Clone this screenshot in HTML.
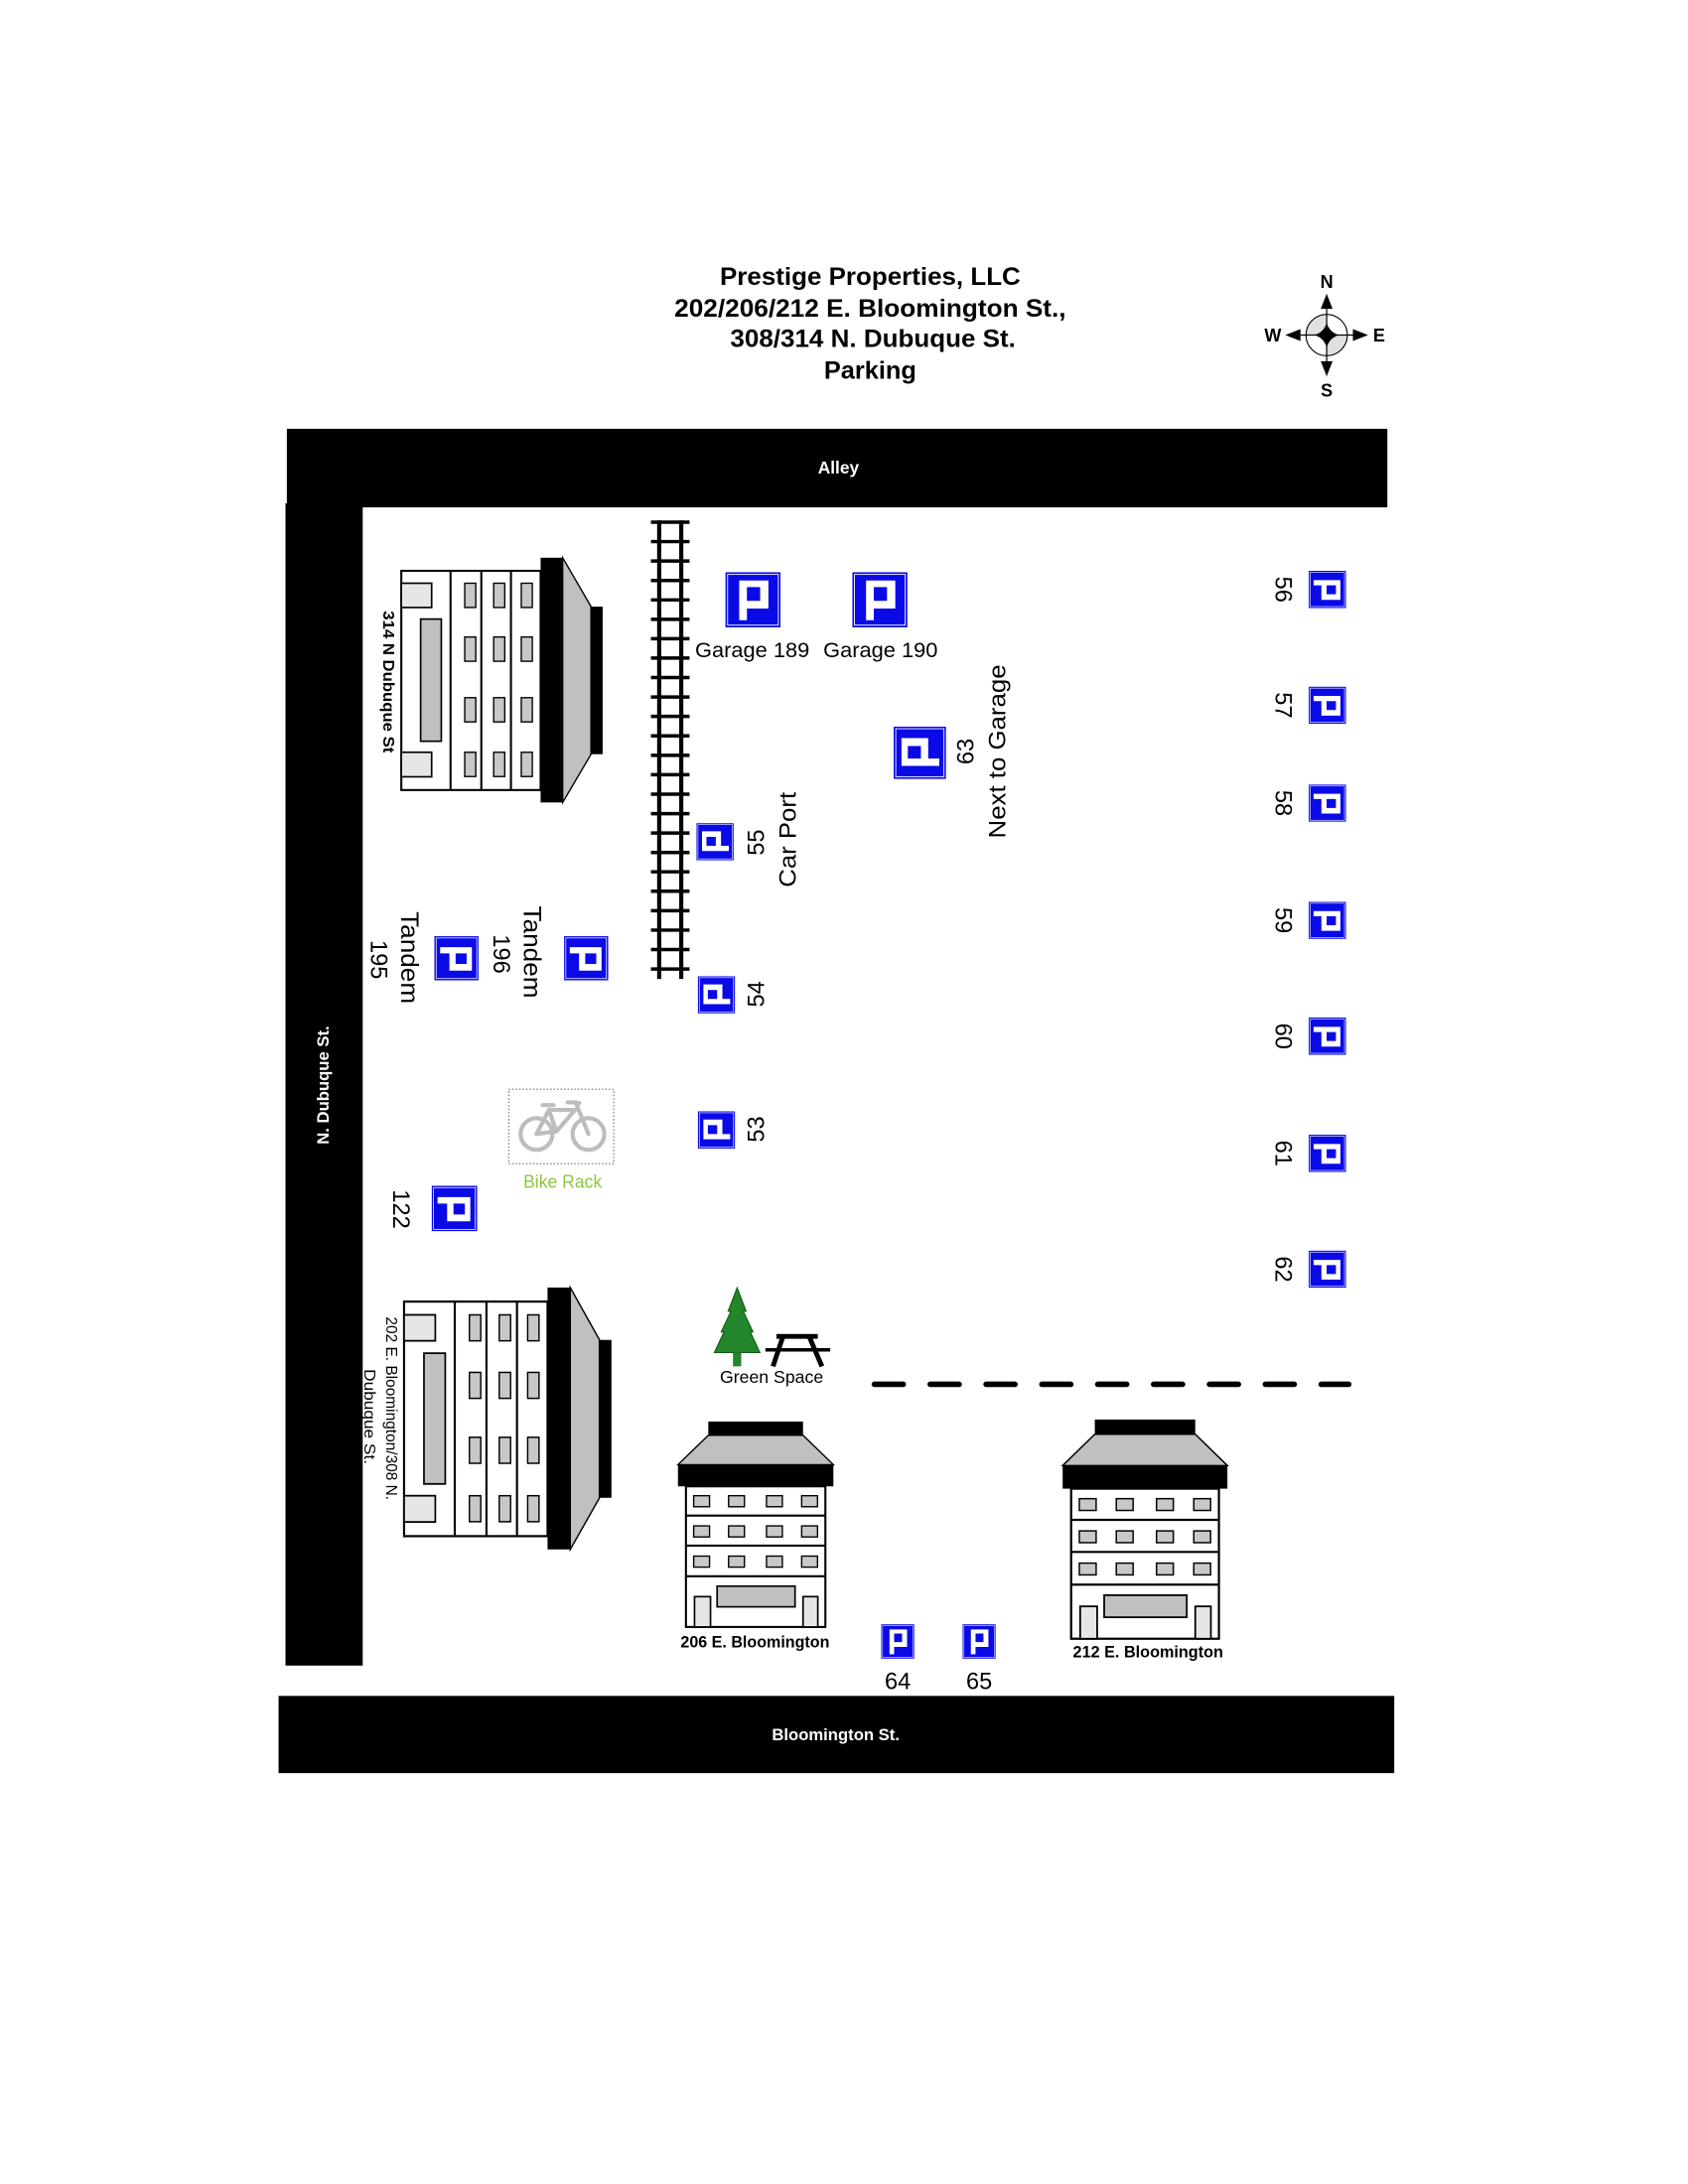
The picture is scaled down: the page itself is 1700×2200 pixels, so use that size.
<!DOCTYPE html>
<html><head><meta charset="utf-8"><style>
html,body{margin:0;padding:0;background:#fff;}
svg{display:block;}
text{font-family:"Liberation Sans",Arial,sans-serif;}
</style></head><body>
<svg width="1700" height="2200" viewBox="0 0 1224 1584" xmlns="http://www.w3.org/2000/svg">
<defs>
<symbol id="p" viewBox="0 0 100 100" preserveAspectRatio="none">
<rect x="0" y="0" width="100" height="100" fill="#0a0ae6"/>
<rect x="4" y="4" width="92" height="92" fill="none" stroke="#fff" stroke-width="1.6"/>
<path d="M25,15 H78 V66 H39 V87 H25 Z M39,27 V52 H63 V27 Z" fill="#fff" fill-rule="evenodd"/>
</symbol>
</defs>
<rect width="1224" height="1584" fill="#fff"/>

<!-- Title -->
<g font-weight="bold" font-size="18" text-anchor="middle" fill="#000">
<text x="631" y="206.5" textLength="218" lengthAdjust="spacingAndGlyphs">Prestige Properties, LLC</text>
<text x="631" y="229.5" textLength="284" lengthAdjust="spacingAndGlyphs">202/206/212 E. Bloomington St.,</text>
<text x="633" y="251.5" textLength="207" lengthAdjust="spacingAndGlyphs">308/314 N. Dubuque St.</text>
<text x="631" y="274.5" textLength="67" lengthAdjust="spacingAndGlyphs">Parking</text>
</g>

<!-- Compass -->
<g>
<circle cx="962" cy="243" r="15" fill="#fff"/>
<path d="M962,243 L947,243 A15,15 0 0 1 962,228 Z" fill="#e0e0e0"/>
<path d="M962,243 L977,243 A15,15 0 0 1 962,258 Z" fill="#e0e0e0"/>
<circle cx="962" cy="243" r="15" fill="none" stroke="#000" stroke-width="0.8"/>
<line x1="943" y1="243" x2="981" y2="243" stroke="#000" stroke-width="0.9"/>
<line x1="962" y1="224" x2="962" y2="262" stroke="#000" stroke-width="0.9"/>
<path d="M962,213 L966.3,224 L957.7,224 Z" fill="#000"/>
<path d="M962,273 L966.3,262 L957.7,262 Z" fill="#000"/>
<path d="M932,243 L943,238.7 L943,247.3 Z" fill="#000"/>
<path d="M992,243 L981,238.7 L981,247.3 Z" fill="#000"/>
<path d="M962,234 Q964,241 971,243 Q964,245 962,252 Q960,245 953,243 Q960,241 962,234 Z" fill="#000"/>
<g font-weight="bold" font-size="13" text-anchor="middle">
<text x="962" y="208.7">N</text>
<text x="962" y="287.7">S</text>
<text x="923" y="247.7">W</text>
<text x="1000" y="247.7">E</text>
</g>
</g>

<!-- Streets -->
<rect x="208" y="311" width="798" height="57" fill="#000"/>
<text x="608" y="343.5" font-size="12.5" font-weight="bold" fill="#fff" text-anchor="middle">Alley</text>
<rect x="207" y="365" width="56" height="843" fill="#000"/>
<text transform="translate(234,787) rotate(-90)" y="4.2" font-size="12" font-weight="bold" fill="#fff" text-anchor="middle">N. Dubuque St.</text>
<rect x="202" y="1230" width="809" height="56" fill="#000"/>
<text x="606" y="1262" font-size="12" font-weight="bold" fill="#fff" text-anchor="middle">Bloomington St.</text>

<!-- Railroad track -->
<g stroke="#000">
<line x1="478" y1="377.5" x2="478" y2="710" stroke-width="3"/>
<line x1="494" y1="377.5" x2="494" y2="710" stroke-width="3"/>
<g stroke-width="2.5">
<line x1="472" x2="500" y1="378.7" y2="378.7"/>
<line x1="472" x2="500" y1="392.8" y2="392.8"/>
<line x1="472" x2="500" y1="406.9" y2="406.9"/>
<line x1="472" x2="500" y1="421.0" y2="421.0"/>
<line x1="472" x2="500" y1="435.1" y2="435.1"/>
<line x1="472" x2="500" y1="449.2" y2="449.2"/>
<line x1="472" x2="500" y1="463.2" y2="463.2"/>
<line x1="472" x2="500" y1="477.3" y2="477.3"/>
<line x1="472" x2="500" y1="491.4" y2="491.4"/>
<line x1="472" x2="500" y1="505.5" y2="505.5"/>
<line x1="472" x2="500" y1="519.6" y2="519.6"/>
<line x1="472" x2="500" y1="533.7" y2="533.7"/>
<line x1="472" x2="500" y1="547.8" y2="547.8"/>
<line x1="472" x2="500" y1="561.9" y2="561.9"/>
<line x1="472" x2="500" y1="576.0" y2="576.0"/>
<line x1="472" x2="500" y1="590.1" y2="590.1"/>
<line x1="472" x2="500" y1="604.2" y2="604.2"/>
<line x1="472" x2="500" y1="618.3" y2="618.3"/>
<line x1="472" x2="500" y1="632.3" y2="632.3"/>
<line x1="472" x2="500" y1="646.4" y2="646.4"/>
<line x1="472" x2="500" y1="660.5" y2="660.5"/>
<line x1="472" x2="500" y1="674.6" y2="674.6"/>
<line x1="472" x2="500" y1="688.7" y2="688.7"/>
<line x1="472" x2="500" y1="702.8" y2="702.8"/>
</g>
</g>

<!-- Left building 1: 314 N Dubuque -->
<g transform="translate(291,414)">
<rect x="0" y="0" width="101" height="159" fill="#fff" stroke="#000" stroke-width="1.5"/>
<g stroke="#000" stroke-width="1.5">
<line x1="35.7" y1="0" x2="35.7" y2="159"/>
<line x1="58" y1="0" x2="58" y2="159"/>
<line x1="79.5" y1="0" x2="79.5" y2="159"/>
</g>
<g fill="#c8c8c8" stroke="#000" stroke-width="1">
<rect x="46" y="9" width="8" height="17.6"/><rect x="67" y="9" width="8" height="17.6"/><rect x="87" y="9" width="8" height="17.6"/>
<rect x="46" y="48" width="8" height="17.6"/><rect x="67" y="48" width="8" height="17.6"/><rect x="87" y="48" width="8" height="17.6"/>
<rect x="46" y="92" width="8" height="17.6"/><rect x="67" y="92" width="8" height="17.6"/><rect x="87" y="92" width="8" height="17.6"/>
<rect x="46" y="131.6" width="8" height="17.6"/><rect x="67" y="131.6" width="8" height="17.6"/><rect x="87" y="131.6" width="8" height="17.6"/>
</g>
<rect x="0" y="9" width="22" height="17.6" fill="#e6e6e6" stroke="#000" stroke-width="1.2"/>
<rect x="0" y="131.6" width="22" height="17.8" fill="#e6e6e6" stroke="#000" stroke-width="1.2"/>
<rect x="14" y="35" width="15" height="88.6" fill="#c0c0c0" stroke="#000" stroke-width="1.2"/>
<polygon points="117,-9.5 137.6,26 137.6,133 117,168" fill="#c0c0c0" stroke="#000" stroke-width="1"/>
<rect x="101" y="-9.5" width="16" height="177.5" fill="#000"/>
<rect x="137" y="26" width="9" height="107" fill="#000"/>
</g>
<text transform="translate(282,494.5) rotate(90)" y="3.9" font-size="11" font-weight="bold" text-anchor="middle" textLength="103" lengthAdjust="spacingAndGlyphs">314 N Dubuque St</text>

<!-- Left building 2: 202 E. Bloomington / 308 N. Dubuque -->
<g transform="translate(293,944) scale(1.03,1.07)">
<rect x="0" y="0" width="101" height="159" fill="#fff" stroke="#000" stroke-width="1.5"/>
<g stroke="#000" stroke-width="1.5">
<line x1="35.7" y1="0" x2="35.7" y2="159"/>
<line x1="58" y1="0" x2="58" y2="159"/>
<line x1="79.5" y1="0" x2="79.5" y2="159"/>
</g>
<g fill="#c8c8c8" stroke="#000" stroke-width="1">
<rect x="46" y="9" width="8" height="17.6"/><rect x="67" y="9" width="8" height="17.6"/><rect x="87" y="9" width="8" height="17.6"/>
<rect x="46" y="48" width="8" height="17.6"/><rect x="67" y="48" width="8" height="17.6"/><rect x="87" y="48" width="8" height="17.6"/>
<rect x="46" y="92" width="8" height="17.6"/><rect x="67" y="92" width="8" height="17.6"/><rect x="87" y="92" width="8" height="17.6"/>
<rect x="46" y="131.6" width="8" height="17.6"/><rect x="67" y="131.6" width="8" height="17.6"/><rect x="87" y="131.6" width="8" height="17.6"/>
</g>
<rect x="0" y="9" width="22" height="17.6" fill="#e6e6e6" stroke="#000" stroke-width="1.2"/>
<rect x="0" y="131.6" width="22" height="17.8" fill="#e6e6e6" stroke="#000" stroke-width="1.2"/>
<rect x="14" y="35" width="15" height="88.6" fill="#c0c0c0" stroke="#000" stroke-width="1.2"/>
<polygon points="117,-9.5 137.6,26 137.6,133 117,168" fill="#c0c0c0" stroke="#000" stroke-width="1"/>
<rect x="101" y="-9.5" width="16" height="177.5" fill="#000"/>
<rect x="137" y="26" width="9" height="107" fill="#000"/>
</g>
<text transform="translate(284,1021.5) rotate(90)" y="3.9" font-size="11" text-anchor="middle" textLength="133" lengthAdjust="spacingAndGlyphs">202 E. Bloomington/308 N.</text>
<text transform="translate(268,1027.5) rotate(90)" y="3.9" font-size="11" text-anchor="middle" textLength="69" lengthAdjust="spacingAndGlyphs">Dubuque St.</text>

<!-- Bottom building 206 -->
<g>
<rect x="513.6" y="1031" width="68.7" height="10" fill="#000"/>
<polygon points="513.6,1041 582.3,1041 604.3,1062.3 491.6,1062.3" fill="#c0c0c0" stroke="#000" stroke-width="1"/>
<rect x="491.6" y="1062.3" width="112.7" height="15.7" fill="#000"/>
<rect x="497.4" y="1078" width="101.1" height="102" fill="#fff" stroke="#000" stroke-width="1.5"/>
<g stroke="#000" stroke-width="1.5">
<line x1="497.4" x2="598.5" y1="1099.2" y2="1099.2"/>
<line x1="497.4" x2="598.5" y1="1121" y2="1121"/>
<line x1="497.4" x2="598.5" y1="1143.2" y2="1143.2"/>
</g>
<g fill="#c8c8c8" stroke="#000" stroke-width="1">
<rect x="503" y="1084.8" width="11.5" height="8"/><rect x="528.3" y="1084.8" width="11.5" height="8"/><rect x="555.8" y="1084.8" width="11.5" height="8"/><rect x="581.3" y="1084.8" width="11.5" height="8"/>
<rect x="503" y="1106.7" width="11.5" height="8"/><rect x="528.3" y="1106.7" width="11.5" height="8"/><rect x="555.8" y="1106.7" width="11.5" height="8"/><rect x="581.3" y="1106.7" width="11.5" height="8"/>
<rect x="503" y="1128.6" width="11.5" height="8"/><rect x="528.3" y="1128.6" width="11.5" height="8"/><rect x="555.8" y="1128.6" width="11.5" height="8"/><rect x="581.3" y="1128.6" width="11.5" height="8"/>
</g>
<rect x="520" y="1150.4" width="56.5" height="15" fill="#c0c0c0" stroke="#000" stroke-width="1.2"/>
<rect x="503.6" y="1158" width="11.6" height="22" fill="#e6e6e6" stroke="#000" stroke-width="1.2"/>
<rect x="582.3" y="1158" width="10.7" height="22" fill="#e6e6e6" stroke="#000" stroke-width="1.2"/>
</g>
<text x="547.5" y="1195" font-size="12" font-weight="bold" text-anchor="middle" textLength="108" lengthAdjust="spacingAndGlyphs">206 E. Bloomington</text>

<!-- Bottom building 212 -->
<g transform="translate(776.7,1079.7) scale(1.06,1.067) translate(-497.4,-1078)">
<rect x="513.6" y="1031" width="68.7" height="10" fill="#000"/>
<polygon points="513.6,1041 582.3,1041 604.3,1062.3 491.6,1062.3" fill="#c0c0c0" stroke="#000" stroke-width="1"/>
<rect x="491.6" y="1062.3" width="112.7" height="15.7" fill="#000"/>
<rect x="497.4" y="1078" width="101.1" height="102" fill="#fff" stroke="#000" stroke-width="1.5"/>
<g stroke="#000" stroke-width="1.5">
<line x1="497.4" x2="598.5" y1="1099.2" y2="1099.2"/>
<line x1="497.4" x2="598.5" y1="1121" y2="1121"/>
<line x1="497.4" x2="598.5" y1="1143.2" y2="1143.2"/>
</g>
<g fill="#c8c8c8" stroke="#000" stroke-width="1">
<rect x="503" y="1084.8" width="11.5" height="8"/><rect x="528.3" y="1084.8" width="11.5" height="8"/><rect x="555.8" y="1084.8" width="11.5" height="8"/><rect x="581.3" y="1084.8" width="11.5" height="8"/>
<rect x="503" y="1106.7" width="11.5" height="8"/><rect x="528.3" y="1106.7" width="11.5" height="8"/><rect x="555.8" y="1106.7" width="11.5" height="8"/><rect x="581.3" y="1106.7" width="11.5" height="8"/>
<rect x="503" y="1128.6" width="11.5" height="8"/><rect x="528.3" y="1128.6" width="11.5" height="8"/><rect x="555.8" y="1128.6" width="11.5" height="8"/><rect x="581.3" y="1128.6" width="11.5" height="8"/>
</g>
<rect x="520" y="1150.4" width="56.5" height="15" fill="#c0c0c0" stroke="#000" stroke-width="1.2"/>
<rect x="503.6" y="1158" width="11.6" height="22" fill="#e6e6e6" stroke="#000" stroke-width="1.2"/>
<rect x="582.3" y="1158" width="10.7" height="22" fill="#e6e6e6" stroke="#000" stroke-width="1.2"/>
</g>
<text x="832.5" y="1202" font-size="12" font-weight="bold" text-anchor="middle" textLength="109" lengthAdjust="spacingAndGlyphs">212 E. Bloomington</text>

<!-- Dashed line -->
<g stroke="#000" stroke-width="4" stroke-linecap="round">
<line x1="634" x2="655" y1="1004" y2="1004"/>
<line x1="674.5" x2="695.5" y1="1004" y2="1004"/>
<line x1="715" x2="736" y1="1004" y2="1004"/>
<line x1="755.5" x2="776.5" y1="1004" y2="1004"/>
<line x1="796" x2="817" y1="1004" y2="1004"/>
<line x1="836.5" x2="857.5" y1="1004" y2="1004"/>
<line x1="877" x2="898" y1="1004" y2="1004"/>
<line x1="917.5" x2="938.5" y1="1004" y2="1004"/>
<line x1="958" x2="978" y1="1004" y2="1004"/>
</g>

<!-- Green space -->
<polygon points="534.5,934 541,951 539,951 546,966 544,966 551,981 518,981 525,966 523,966 530,951 528,951" fill="#23862a" stroke="#145a18" stroke-width="0.8"/>
<rect x="531.5" y="981" width="6" height="10" fill="#23862a"/>
<rect x="563" y="967.5" width="30" height="3.5" fill="#000"/>
<line x1="555" y1="979" x2="602" y2="979" stroke="#000" stroke-width="2.5"/>
<line x1="567.5" y1="970" x2="560.5" y2="991" stroke="#000" stroke-width="3.5"/>
<line x1="587" y1="970" x2="596" y2="991" stroke="#000" stroke-width="3.5"/>
<text x="559.5" y="1003" font-size="12.5" text-anchor="middle" textLength="75" lengthAdjust="spacingAndGlyphs">Green Space</text>

<!-- Bike rack -->
<rect x="369" y="790" width="76" height="54" fill="none" stroke="#666" stroke-width="0.8" stroke-dasharray="1 1.5"/>
<g stroke="#bdbdbd" fill="none" stroke-width="3" stroke-linecap="round" stroke-linejoin="round">
<circle cx="389" cy="822.5" r="11.5"/>
<circle cx="426.7" cy="822.5" r="11.5"/>
<polyline points="389,822.5 403.5,820.5 398,805 389,822.5"/>
<polyline points="398,805 417,805 403.5,820.5"/>
<polyline points="426.7,822.5 418,801 420,800"/>
<line x1="393.5" y1="801.5" x2="401.5" y2="801.5"/>
<line x1="411.5" y1="799.5" x2="418" y2="799.5"/>
</g>
<text x="408" y="861.5" font-size="13" fill="#8dc63f" text-anchor="middle" textLength="57" lengthAdjust="spacingAndGlyphs">Bike Rack</text>

<!-- Parking signs -->
<use href="#p" x="526" y="415" width="40" height="40"/>
<use href="#p" x="618" y="415" width="40" height="40"/>
<use href="#p" x="648" y="527" width="38" height="38" transform="rotate(-90 667 546)"/>
<use href="#p" x="505" y="597" width="27" height="27" transform="rotate(-90 518.5 610.5)"/>
<use href="#p" x="506" y="708" width="27" height="27" transform="rotate(-90 519.5 721.5)"/>
<use href="#p" x="506" y="806" width="27" height="27" transform="rotate(-90 519.5 819.5)"/>
<use href="#p" x="949" y="414" width="27" height="27" transform="rotate(90 962.5 427.5)"/>
<use href="#p" x="949" y="498" width="27" height="27" transform="rotate(90 962.5 511.5)"/>
<use href="#p" x="949" y="569" width="27" height="27" transform="rotate(90 962.5 582.5)"/>
<use href="#p" x="949" y="654" width="27" height="27" transform="rotate(90 962.5 667.5)"/>
<use href="#p" x="949" y="738" width="27" height="27" transform="rotate(90 962.5 751.5)"/>
<use href="#p" x="949" y="823" width="27" height="27" transform="rotate(90 962.5 836.5)"/>
<use href="#p" x="949" y="907" width="27" height="27" transform="rotate(90 962.5 920.5)"/>
<use href="#p" x="315" y="679" width="32" height="32" transform="rotate(90 331 695)"/>
<use href="#p" x="409" y="679" width="32" height="32" transform="rotate(90 425 695)"/>
<use href="#p" x="313" y="860" width="33" height="33" transform="rotate(90 329.5 876.5)"/>
<use href="#p" x="639" y="1178" width="24" height="25"/>
<use href="#p" x="698" y="1178" width="24" height="25"/>

<!-- Labels -->
<g font-size="15" text-anchor="middle">
<text x="545.5" y="476.5" textLength="83" lengthAdjust="spacingAndGlyphs">Garage 189</text>
<text x="638.5" y="476.5" textLength="83" lengthAdjust="spacingAndGlyphs">Garage 190</text>
</g>
<g font-size="17" text-anchor="middle">
<text transform="translate(548,611) rotate(-90)" y="6">55</text>
<text transform="translate(571,609) rotate(-90)" y="6" textLength="69" lengthAdjust="spacingAndGlyphs">Car Port</text>
<text transform="translate(700,545) rotate(-90)" y="6">63</text>
<text transform="translate(723,545) rotate(-90)" y="6" textLength="126" lengthAdjust="spacingAndGlyphs">Next to Garage</text>
<text transform="translate(548,721) rotate(-90)" y="6">54</text>
<text transform="translate(548,819) rotate(-90)" y="6">53</text>
<text transform="translate(931,427.5) rotate(90)" y="6">56</text>
<text transform="translate(931,511.5) rotate(90)" y="6">57</text>
<text transform="translate(931,582.5) rotate(90)" y="6">58</text>
<text transform="translate(931,667.5) rotate(90)" y="6">59</text>
<text transform="translate(931,751.5) rotate(90)" y="6">60</text>
<text transform="translate(931,836.5) rotate(90)" y="6">61</text>
<text transform="translate(931,920.5) rotate(90)" y="6">62</text>
<text transform="translate(297,694.5) rotate(90)" y="6.3" font-size="18" textLength="67" lengthAdjust="spacingAndGlyphs">Tandem</text>
<text transform="translate(275,696) rotate(90)" y="6">195</text>
<text transform="translate(386,690.5) rotate(90)" y="6.3" font-size="18" textLength="67" lengthAdjust="spacingAndGlyphs">Tandem</text>
<text transform="translate(364,692) rotate(90)" y="6">196</text>
<text transform="translate(291,877) rotate(90)" y="6">122</text>
<text x="651" y="1225">64</text>
<text x="710" y="1225">65</text>
</g>
</svg>
</body></html>
